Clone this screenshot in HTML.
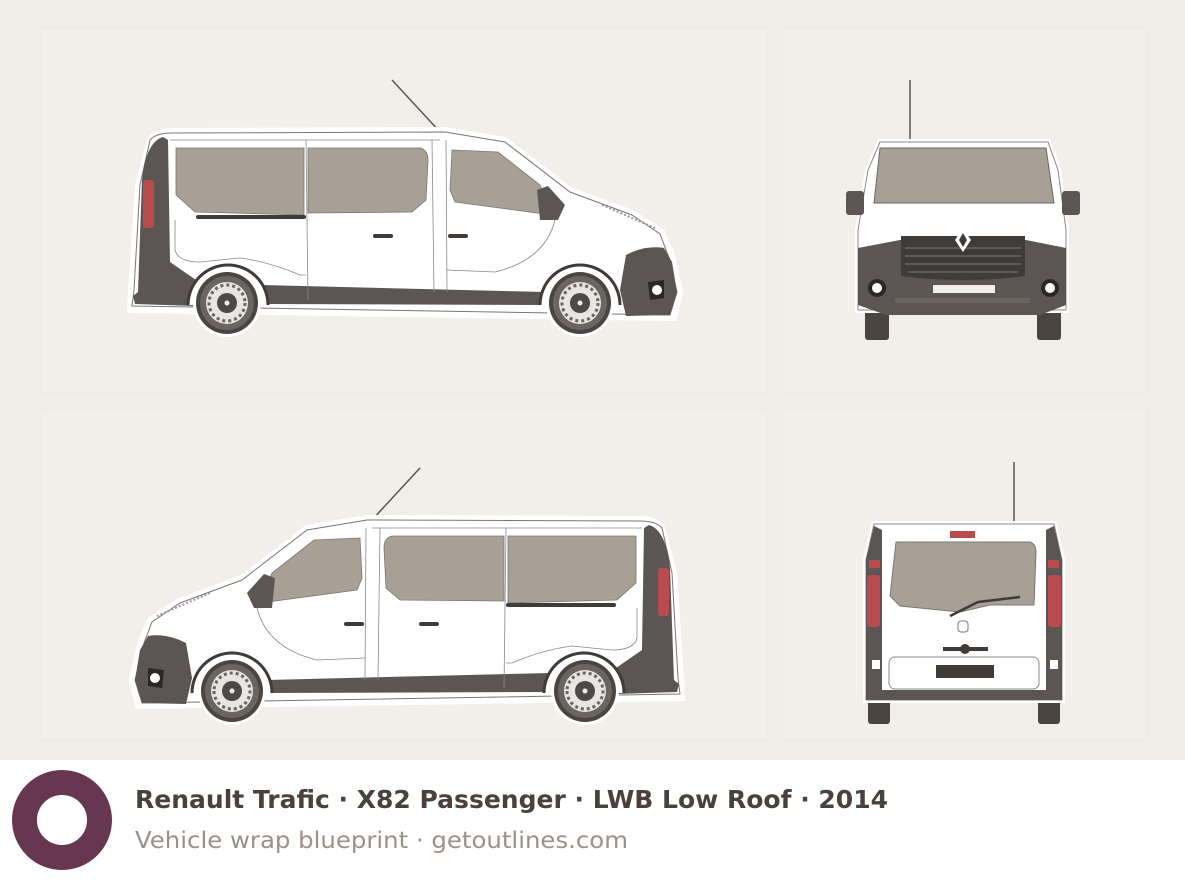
<!DOCTYPE html>
<html><head><meta charset="utf-8"><style>
html,body{margin:0;padding:0;width:1185px;height:880px;overflow:hidden;background:#f0ede8;}
</style></head><body>
<svg width="1185" height="880" viewBox="0 0 1185 880" xmlns="http://www.w3.org/2000/svg">
<defs>
<g id="wheel">
  <circle r="34" fill="#fff"/>
  <circle r="31" fill="#4a4541"/>
  <circle r="27" fill="#6a6561"/>
  <circle r="21" fill="#e8e6e3"/>
  <circle r="18" fill="none" stroke="#6a6561" stroke-width="3" stroke-dasharray="3 3"/>
  <circle r="10" fill="#4e4946"/>
  <circle r="2.5" fill="#eee"/>
</g>
<g id="side">
  <!-- antenna -->
  <line x1="392" y1="80" x2="441" y2="133" stroke="#555" stroke-width="1.5"/>
  <!-- white outline halo -->
  <path d="M150,140 Q156,131 172,131 L445,130 L505,140 L570,190 L632,213 L662,232 L672,255 L680,292 L674,318 L130,310 L131,290 L138,185 Z" fill="#fff" stroke="#fff" stroke-width="6"/>
  <!-- body -->
  <path d="M150,140 Q156,133 172,133 L445,132 L505,142 L570,192 L632,215 L660,234 L668,255 L677,292 L670,315 L132,306 L134,290 L140,185 Z" fill="#fff" stroke="#777" stroke-width="1"/>
  <!-- rear dark panel -->
  <path d="M163,137 Q146,142 142,180 L138,292 L133,296 L135,304 L195,306 L196,280 L170,262 L168,140 Z" fill="#5b5653"/>
  <rect x="143" y="180" width="11" height="48" rx="3" fill="#b84b4e"/>
  <!-- lower skirt -->
  <path d="M262,285 L545,292 L545,305 L262,304 Z" fill="#5b5653"/>
  <!-- front bumper -->
  <path d="M626,255 Q645,245 664,248 L672,262 L677,292 L670,315 L626,316 L620,290 Z" fill="#5b5653"/>
  <path d="M648,282 L664,280 L664,298 L650,300 Z" fill="#2a2725"/>
  <ellipse cx="657" cy="290" rx="5" ry="5" fill="#fff"/>
  <!-- arches -->
  <path d="M188,305 A40,40 0 0 1 268,305" fill="#fff" stroke="#3f3b38" stroke-width="3"/>
  <path d="M540,305 A40,40 0 0 1 620,305" fill="#fff" stroke="#3f3b38" stroke-width="3"/>
  <!-- windows -->
  <path d="M176,148 L304,148 L304,215 L195,212 L176,195 Z" fill="#a8a095" stroke="#777" stroke-width="0.8"/>
  <path d="M308,148 L420,148 Q428,150 428,160 L426,200 L412,212 L308,213 Z" fill="#a8a095" stroke="#777" stroke-width="0.8"/>
  <path d="M452,150 L498,152 L540,185 L552,215 L455,202 L450,190 Z" fill="#a8a095" stroke="#777" stroke-width="0.8"/>
  <path d="M537,190 L548,186 L565,205 L558,220 L540,220 Z" fill="#5b5653"/>
  <!-- door lines -->
  <g stroke="#888" stroke-width="0.8" fill="none">
  <line x1="306" y1="140" x2="308" y2="300"/>
  <line x1="432" y1="140" x2="434" y2="292"/>
  <line x1="446" y1="140" x2="447" y2="292"/>
  <path d="M555,220 Q545,260 495,272 L447,270"/>
  <path d="M175,220 L175,250 Q178,262 200,262 L240,258 Q270,262 300,275 L306,275"/>
  <line x1="170" y1="140" x2="440" y2="140"/>
  </g>
  <rect x="196" y="215" width="110" height="4" rx="2" fill="#3f3b38"/>
  <rect x="373" y="234" width="20" height="4" rx="2" fill="#3f3b38"/>
  <rect x="448" y="234" width="20" height="4" rx="2" fill="#3f3b38"/>
  <line x1="602" y1="205" x2="655" y2="228" stroke="#999" stroke-width="2" stroke-dasharray="2 2"/>
  <use href="#wheel" x="227" y="303"/>
  <use href="#wheel" x="580" y="303"/>
</g>
</defs>
<!-- panels -->
<rect x="40" y="28" width="728" height="365" fill="#f2efeb" stroke="#ebe7e2"/>
<rect x="782" y="28" width="365" height="365" fill="#f2efeb" stroke="#ebe7e2"/>
<rect x="40" y="410" width="728" height="330" fill="#f2efeb" stroke="#ebe7e2"/>
<rect x="782" y="410" width="365" height="330" fill="#f2efeb" stroke="#ebe7e2"/>

<use href="#side"/>
<g transform="translate(812,388) scale(-1,1)"><use href="#side"/></g>

<!-- front view -->
<g>
  <line x1="910" y1="80" x2="910" y2="142" stroke="#555" stroke-width="1.5"/>
  <rect x="865" y="300" width="24" height="40" rx="3" fill="#4a4541"/>
  <rect x="1037" y="300" width="24" height="40" rx="3" fill="#4a4541"/>
  <path d="M880,142 L1048,142 L1058,170 L1066,230 L1066,310 L858,310 L858,230 L868,170 Z" fill="#fff" stroke="#fff" stroke-width="6"/>
  <path d="M880,142 L1048,142 L1058,170 L1066,230 L1066,310 L858,310 L858,230 L868,170 Z" fill="#fff" stroke="#888"/>
  <path d="M880,148 L1046,148 L1054,203 L874,203 Z" fill="#a8a095" stroke="#666"/>
  <rect x="846" y="191" width="18" height="24" rx="3" fill="#5b5653"/>
  <rect x="1062" y="191" width="18" height="24" rx="3" fill="#5b5653"/>
  <path d="M858,248 L900,240 L1026,240 L1066,248 L1066,305 L1040,315 L886,315 L858,305 Z" fill="#5b5653"/>
  <path d="M901,236 L1025,236 L1025,276 Q963,284 901,276 Z" fill="#3f3b38"/>
  <g stroke="#6a6561" stroke-width="1.5">
  <line x1="905" y1="248" x2="1021" y2="248"/><line x1="905" y1="256" x2="1021" y2="256"/><line x1="905" y1="264" x2="1021" y2="264"/><line x1="908" y1="272" x2="1018" y2="272"/>
  </g>
  <path d="M963,228 L971,240 L963,252 L955,240 Z" fill="#fff"/>
  <path d="M963,233 L967,240 L963,247 L959,240 Z" fill="#3f3b38"/>
  <circle cx="877" cy="288" r="9" fill="#2a2725"/><circle cx="877" cy="288" r="5" fill="#fff"/>
  <circle cx="1050" cy="288" r="9" fill="#2a2725"/><circle cx="1050" cy="288" r="5" fill="#fff"/>
  <rect x="933" y="285" width="62" height="8" fill="#f2efe8"/>
  <rect x="895" y="298" width="135" height="5" fill="#6a6561"/>
</g>

<!-- rear view -->
<g>
  <line x1="1014" y1="462" x2="1014" y2="524" stroke="#555" stroke-width="1.5"/>
  <rect x="868" y="690" width="22" height="34" rx="3" fill="#4a4541"/>
  <rect x="1038" y="690" width="22" height="34" rx="3" fill="#4a4541"/>
  <path d="M874,524 L1054,524 L1062,560 L1062,700 L866,700 L866,560 Z" fill="#fff" stroke="#fff" stroke-width="6"/>
  <path d="M874,524 L1054,524 L1062,560 L1062,700 L866,700 L866,560 Z" fill="#fff" stroke="#888"/>
  <path d="M874,526 L882,530 L882,690 L866,690 L866,560 Z" fill="#5b5653"/>
  <path d="M1054,526 L1046,530 L1046,690 L1062,690 L1062,560 Z" fill="#5b5653"/>
  <rect x="867" y="575" width="13" height="52" rx="3" fill="#b84b4e"/>
  <rect x="1048" y="575" width="13" height="52" rx="3" fill="#b84b4e"/>
  <rect x="869" y="560" width="11" height="8" fill="#b84b4e"/>
  <rect x="1048" y="560" width="11" height="8" fill="#b84b4e"/>
  <rect x="872" y="660" width="8" height="9" fill="#fff"/>
  <rect x="1050" y="660" width="8" height="9" fill="#fff"/>
  <rect x="950" y="531" width="25" height="7" fill="#b84b4e"/>
  <path d="M896,542 L1030,542 Q1036,544 1036,552 L1034,605 L990,605 L960,612 L900,606 L890,596 Z" fill="#a8a095" stroke="#777"/>
  <path d="M950,616 L978,602 L1020,597" stroke="#3f3b38" stroke-width="2.5" fill="none"/>
  <rect x="958" y="621" width="10" height="11" rx="3" fill="none" stroke="#777"/>
  <rect x="943" y="647" width="45" height="4" fill="#3f3b38"/><circle cx="965" cy="649" r="5" fill="#3f3b38"/>
  <rect x="889" y="657" width="150" height="32" rx="6" fill="none" stroke="#888"/>
  <rect x="936" y="665" width="58" height="13" fill="#3f3b38"/>
  <rect x="866" y="690" width="196" height="10" fill="#5b5653"/>
</g>

<!-- footer -->
<rect x="0" y="760" width="1185" height="120" fill="#fff"/>
<circle cx="62" cy="820" r="37.5" fill="none" stroke="#673650" stroke-width="25"/>
<text x="135" y="808" font-family="DejaVu Sans, Liberation Sans, sans-serif" font-weight="bold" font-size="25" fill="#4a403c" textLength="753" lengthAdjust="spacingAndGlyphs">Renault Trafic · X82 Passenger · LWB Low Roof · 2014</text>
<text x="135" y="848" font-family="DejaVu Sans, Liberation Sans, sans-serif" font-size="23" fill="#9a918a" textLength="493" lengthAdjust="spacingAndGlyphs">Vehicle wrap blueprint · getoutlines.com</text>
</svg>
</body></html>
